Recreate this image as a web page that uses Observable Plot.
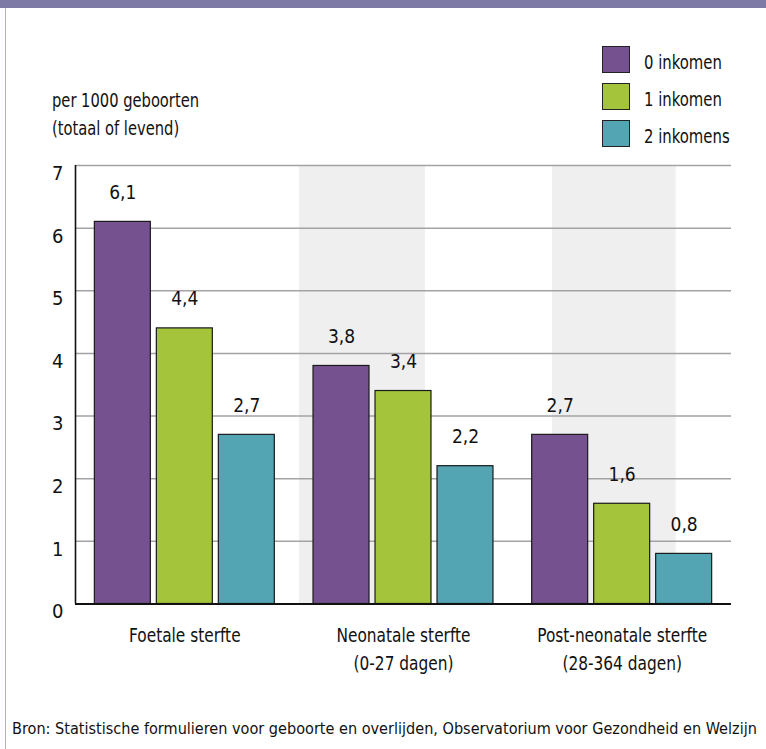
<!DOCTYPE html>
<html>
<head>
<meta charset="utf-8">
<script src="https://cdn.jsdelivr.net/npm/d3@7"></script>
<script src="https://cdn.jsdelivr.net/npm/@observablehq/plot@0.6"></script>
<style>
  html, body { margin: 0; padding: 0; background: #fff; }
  #wrap { position: relative; width: 766px; height: 749px; overflow: hidden; background: #fff;
          font-family: "Liberation Sans Narrow", "DejaVu Sans Condensed", "Noto Sans", sans-serif; color: #111; }
  #topband { position: absolute; left: 0; top: 0; width: 766px; height: 8px; background: #7d7ba6; }
  #leftline { position: absolute; left: 5px; top: 8px; width: 1px; height: 741px; background: #aeacd0; }
  #chart { position: absolute; left: 0; top: 0; }
  #ylabel { position: absolute; left: 52px; top: 86px; font-size: 19px; line-height: 28px; white-space: nowrap;
            transform: scaleX(0.86); transform-origin: 0 0; }
  #legend { position: absolute; left: 602px; top: 46px; }
  .li { position: absolute; left: 0; width: 300px; height: 28px; }
  .sw { position: absolute; left: 0; top: 0; width: 26px; height: 25px; border: 1px solid #222; }
  .lt { position: absolute; left: 42px; top: 3px; font-size: 19px; line-height: 26px; white-space: nowrap;
        transform: scaleX(0.87); transform-origin: 0 0; }
  #caption { position: absolute; left: 12px; top: 719px; font-size: 16.1px; white-space: nowrap; }
</style>
</head>
<body>
<div id="wrap">
  <div id="topband"></div>
  <div id="leftline"></div>
  <div id="chart"></div>
  <div id="ylabel"></div>
  <div id="legend"></div>
  <div id="caption"></div>
</div>
<script>
// ---- data ----
const groups = ["Foetale sterfte", "Neonatale sterfte", "Post-neonatale sterfte"];
const groupSub = ["", "(0-27 dagen)", "(28-364 dagen)"];
const series = ["0 inkomen", "1 inkomen", "2 inkomens"];
const seriesColors = ["#76518f", "#a3c43b", "#53a5b3"];
const values0 = [6.1, 3.8, 2.7];
const values1 = [4.4, 3.4, 1.6];
const values2 = [2.7, 2.2, 0.8];
const yTicks = [0, 1, 2, 3, 4, 5, 6, 7];
const yLabel = ["per 1000 geboorten", "(totaal of levend)"];
const caption = "Bron: Statistische formulieren voor geboorte en overlijden, Observatorium voor Gezondheid en Welzijn";
// decorative background stripes, in group units
const stripeStart = [1.024, 2.181];
const stripeEnd = [1.60, 2.747];

// ---- build table ----
const allValues = [values0, values1, values2];
const rows = [];
groups.forEach((g, gi) => {
  series.forEach((s, si) => {
    rows.push({group: g, gi, series: s, si, value: allValues[si][gi]});
  });
});
const step = 0.2835, half = 0.128;
const xc = d => d.gi + 0.5 + (d.si - 1) * step;
const stripes = stripeStart.map((s, i) => ({x1: s, x2: stripeEnd[i]}));
const fmt = v => v.toFixed(1).replace(".", ",");
const groupLabels = groups.map((g, i) => ({x: i + 0.5, text: groupSub[i] ? g + "\n" + groupSub[i] : g}));

const plot = Plot.plot({
  width: 766,
  height: 700,
  marginLeft: 75,
  marginRight: 35,
  marginTop: 165,
  marginBottom: 96.5,
  style: {fontFamily: '"Liberation Sans Narrow", "DejaVu Sans Condensed", "Noto Sans", sans-serif', background: "transparent", color: "#111"},
  x: {domain: [0, 3], axis: null},
  y: {domain: [0, 7], axis: null},
  color: {domain: series, range: seriesColors},
  marks: [
    Plot.rect(stripes, {x1: "x1", x2: "x2", y1: 0, y2: 7, fill: "#efefef"}),
    Plot.ruleY(yTicks.filter(t => t > 0), {stroke: "#a3a3a3", strokeWidth: 1.5}),
    Plot.rectY(rows, {x1: d => xc(d) - half, x2: d => xc(d) + half, y: "value", fill: "series", stroke: "#1a1a1a", strokeWidth: 1.2}),
    Plot.text(rows, {x: xc, y: "value", text: d => fmt(d.value), dy: -29, fontSize: 19, fill: "#111"}),
    Plot.ruleX([0], {y1: 0, y2: 7, stroke: "#111", strokeWidth: 1.6}),
    Plot.ruleY([0], {stroke: "#111", strokeWidth: 1.8}),
    Plot.text(yTicks, {x: 0, y: d => d, text: d => String(d), textAnchor: "end", dx: -12, dy: 8, fontSize: 20, fill: "#111"}),
    Plot.text(groupLabels, {x: "x", y: 0, text: "text", lineAnchor: "top", dy: 18, lineHeight: 1.47, fontSize: 19, fill: "#111"})
  ]
});
// condense the category labels a little horizontally
plot.querySelectorAll("text").forEach(t => {
  if (t.textContent.includes("sterfte")) {
    const tr = t.getAttribute("transform") || "";
    t.setAttribute("transform", tr + " scale(0.9,1)");
  }
});
document.getElementById("chart").appendChild(plot);

// y label
document.getElementById("ylabel").innerHTML = yLabel.map(t => `<div>${t}</div>`).join("");
// legend
const legendTops = [0, 37, 74];
document.getElementById("legend").innerHTML = series.map((s, i) =>
  `<div class="li" style="top:${legendTops[i]}px"><div class="sw" style="background:${seriesColors[i]}"></div><div class="lt">${s}</div></div>`
).join("");
document.getElementById("caption").textContent = caption;
</script>
</body>
</html>
